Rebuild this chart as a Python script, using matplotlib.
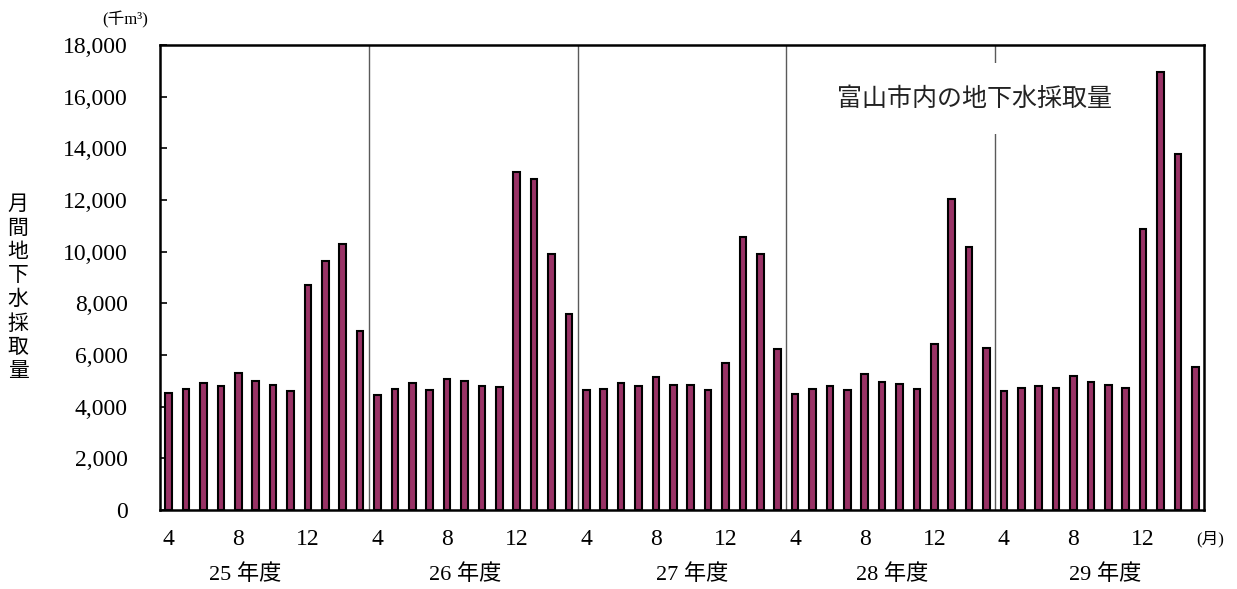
import matplotlib
matplotlib.use("Agg")
import matplotlib.pyplot as plt
import numpy as np

# fonts: serif digits, CJK fallback
plt.rcParams['font.family'] = ['Liberation Serif', 'Noto Sans CJK JP']

# data (千m3), April..March of each fiscal year
years = ['25 年度', '26 年度', '27 年度', '28 年度', '29 年度']
months = [4, 5, 6, 7, 8, 9, 10, 11, 12, 1, 2, 3]
fy25 = [4520, 4700, 4930, 4800, 5320, 5000, 4830, 4600, 8720, 9640, 10280, 6920]
fy26 = [4470, 4680, 4920, 4650, 5070, 5010, 4800, 4760, 13080, 12800, 9920, 7570]
fy27 = [4650, 4680, 4900, 4800, 5130, 4840, 4820, 4640, 5680, 10570, 9900, 6250]
fy28 = [4510, 4680, 4800, 4630, 5270, 4960, 4870, 4700, 6430, 12040, 10180, 6260]
fy29 = [4590, 4740, 4790, 4720, 5170, 4950, 4830, 4720, 10870, 16950, 13800, 5530]
tick_months = [4, 8, 12]

values = fy25 + fy26 + fy27 + fy28 + fy29
n_m = len(months)
x = np.arange(len(values))

fig = plt.figure(figsize=(12.37, 5.89), dpi=100)
ax = fig.add_axes([0.1293, 0.1341, 0.8440, 0.7895])

ax.bar(x, values, width=0.38, color='#993366', edgecolor='black', linewidth=1.5, zorder=3)

# year separators
for i in range(1, len(years)):
    ax.axvline(i * n_m - 0.5, color='#5a5a5a', linewidth=1.0, zorder=1)

ax.set_xlim(-0.5, len(values) - 0.5)
ax.set_ylim(0, 18000)
ax.set_yticks(np.arange(0, 18001, 2000))
ax.set_yticklabels(['{:,}'.format(v) for v in range(0, 18001, 2000)])
ax.tick_params(axis='y', direction='in', length=5, width=1.2, pad=23, labelsize=17)

# month ticks
xt, xl = [], []
for j in range(len(years)):
    for m in tick_months:
        xt.append(j * n_m + months.index(m))
        xl.append(str(m))
ax.set_xticks(xt)
ax.set_xticklabels(xl)
ax.tick_params(axis='x', length=0, pad=14, labelsize=17)

for s in ax.spines.values():
    s.set_linewidth(1.8)
    s.set_zorder(4)

# fiscal year labels
year_offsets = [4.4, 5.05, 6.1, 5.6, 5.8]
for j, (lab, off) in enumerate(zip(years, year_offsets)):
    ax.text(j * n_m + off, -0.138, lab, transform=ax.get_xaxis_transform(),
            ha='center', va='center', fontsize=16)

ax.text(1.006, -0.062, '(月)', transform=ax.transAxes, ha='center', va='center',
        fontsize=12)

ax.text(0.78, 0.884, '富山市内の地下水採取量', transform=ax.transAxes,
        ha='center', va='center', fontsize=18, color='#222222', zorder=5,
        bbox=dict(boxstyle='square,pad=0.95', facecolor='white', edgecolor='none'))

fig.text(0.0146, 0.509, '\n'.join('月間地下水採取量'), ha='center', va='center',
         fontsize=15, linespacing=1.33)
fig.text(0.101, 0.966, '(千m³)', ha='center', va='center', fontsize=12)

fig.savefig('out.png', dpi=100)
